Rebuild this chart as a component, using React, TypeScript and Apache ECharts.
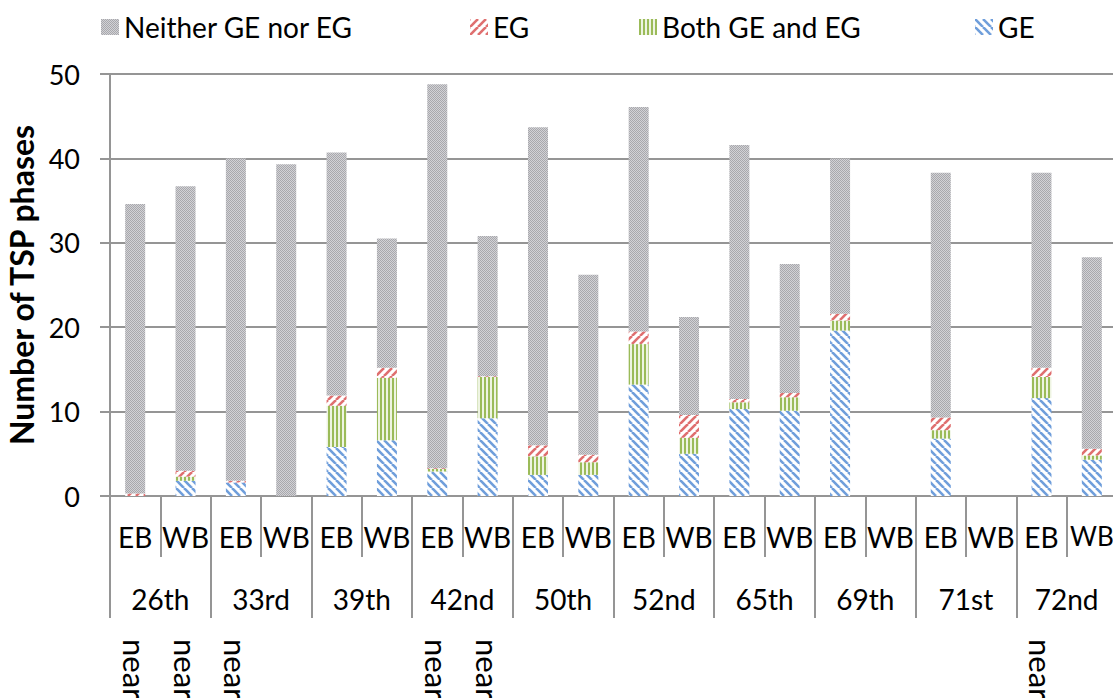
import React, { useEffect, useRef } from 'react';
import * as echarts from 'echarts';

const directions = ['EB', 'WB'];
const streets = ['26th', '33rd', '39th', '42nd', '50th', '52nd', '65th', '69th', '71st', '72nd'];
const slotLabels = streets.flatMap(() => directions);
const noteLabels = ['near', 'near', 'near', '', '', '', 'near', 'near', '', '', '', '', '', '', '', '', '', '', 'near', ''];
const yTicks = { min: 0, max: 50, interval: 10 };

const geValues = [0, 1.8, 1.6, 0, 5.8, 6.6, 2.9, 9.2, 2.5, 2.5, 13.2, 5.0, 10.3, 10.1, 19.6, 0, 6.8, 0, 11.6, 4.3];
const bothValues = [0, 0.5, 0, 0, 4.9, 7.4, 0.3, 4.9, 2.2, 1.5, 4.8, 1.9, 0.8, 1.6, 1.2, 0, 1.0, 0, 2.5, 0.5];
const egValues = [0.3, 0.7, 0.2, 0, 1.2, 1.2, 0.1, 0.1, 1.3, 0.9, 1.5, 2.7, 0.4, 0.5, 0.8, 0, 1.5, 0, 1.1, 0.8];
const neitherValues = [34.3, 33.7, 38.2, 39.3, 28.8, 15.3, 45.5, 16.6, 37.7, 21.3, 26.6, 11.6, 30.1, 15.3, 18.4, 0, 29.0, 0, 23.1, 22.7];

const FONT = 'Lato';

function makePattern(kind: string) {
  const size = kind === 'neither' ? 4 : kind === 'both' ? 4 : 8;
  const c = document.createElement('canvas');
  c.width = size;
  c.height = size;
  const ctx = c.getContext('2d')!;
  ctx.fillStyle = '#ffffff';
  ctx.fillRect(0, 0, size, size);
  if (kind === 'neither') {
    for (let y = 0; y < size; y++) {
      for (let x = 0; x < size; x++) {
        ctx.fillStyle = (x + y) % 2 === 0 ? '#a8a8ac' : '#d2d2d6';
        ctx.fillRect(x, y, 1, 1);
      }
    }
  } else if (kind === 'both') {
    ctx.fillStyle = '#eef4e2';
    ctx.fillRect(0, 0, size, size);
    ctx.fillStyle = '#9bbb59';
    ctx.fillRect(0, 0, 2, size);
  } else {
    const color = kind === 'ge' ? '#6f9edb' : '#df6f6f';
    ctx.strokeStyle = color;
    ctx.lineWidth = 2.6;
    for (let k = -1; k <= 1; k++) {
      ctx.beginPath();
      if (kind === 'ge') {
        ctx.moveTo(k * size, 0);
        ctx.lineTo(k * size + size, size);
      } else {
        ctx.moveTo(k * size, size);
        ctx.lineTo(k * size + size, 0);
      }
      ctx.stroke();
    }
  }
  return { image: c.toDataURL(), repeat: 'repeat', imageWidth: size, imageHeight: size } as any;
}

export default function App() {
  const ref = useRef<HTMLDivElement>(null);
  useEffect(() => {
    if (!ref.current) return;
    const chart = echarts.init(ref.current, null, { renderer: 'svg' });
    const pGE = makePattern('ge');
    const pEG = makePattern('eg');
    const pBoth = makePattern('both');
    const pNeither = makePattern('neither');
    const gridColor = '#959595';
    const legendBase = {
      top: 8,
      itemWidth: 18,
      itemHeight: 16,
      icon: 'rect',
      selectedMode: false,
      textStyle: { fontFamily: FONT, fontSize: 28, color: '#000' },
    };
    const mk = (name: string, data: number[], pattern: any) => ({
      name,
      type: 'bar',
      stack: 'total',
      xAxisIndex: 0,
      yAxisIndex: 0,
      barWidth: 20,
      data,
      itemStyle: { color: pattern },
    });
    const slotData = slotLabels.map((s, i) =>
      i === slotLabels.length - 1
        ? { value: s, textStyle: { fontSize: 26, fontFamily: FONT, color: '#000' } }
        : s
    );
    chart.setOption({
      animation: false,
      backgroundColor: '#ffffff',
      legend: [
        { ...legendBase, left: 96, data: ['Neither GE nor EG'] },
        { ...legendBase, left: 465, data: ['EG'] },
        { ...legendBase, left: 634, data: ['Both GE and EG'] },
        { ...legendBase, left: 970, data: ['GE'] },
      ],
      grid: { left: 110, right: -4, top: 74, bottom: 202, containLabel: false, outerBoundsMode: 'none' },
      xAxis: [
        {
          type: 'category',
          data: slotData,
          position: 'bottom',
          axisLine: { show: true, lineStyle: { color: gridColor, width: 2 } },
          axisTick: { show: true, interval: 0, length: 61, lineStyle: { color: gridColor, width: 2 } },
          axisLabel: { interval: 0, margin: 27, fontFamily: FONT, fontSize: 28, color: '#000' },
        },
        {
          type: 'category',
          data: streets,
          position: 'bottom',
          axisLine: { show: false },
          axisTick: { show: true, interval: 0, length: 122, lineStyle: { color: gridColor, width: 2 } },
          axisLabel: { interval: 0, margin: 89, fontFamily: FONT, fontSize: 28, color: '#000' },
        },
        {
          type: 'category',
          data: noteLabels,
          position: 'bottom',
          axisLine: { show: false },
          axisTick: { show: false },
          axisLabel: { interval: 0, margin: 143, rotate: -90, fontFamily: FONT, fontSize: 31, color: '#000' },
        },
      ],
      yAxis: {
        type: 'value',
        min: yTicks.min,
        max: yTicks.max,
        interval: yTicks.interval,
        name: 'Number of TSP phases',
        nameLocation: 'middle',
        nameGap: 72,
        nameTextStyle: { fontFamily: FONT, fontSize: 32, fontWeight: 'bold', color: '#000' },
        axisLine: { show: true, lineStyle: { color: gridColor, width: 2 } },
        axisTick: { show: true, length: 10, lineStyle: { color: gridColor, width: 2 } },
        axisLabel: { margin: 30, fontFamily: FONT, fontSize: 27, color: '#000' },
        splitLine: { show: true, lineStyle: { color: gridColor, width: 2 } },
      },
      series: [
        mk('GE', geValues, pGE),
        mk('Both GE and EG', bothValues, pBoth),
        mk('EG', egValues, pEG),
        mk('Neither GE nor EG', neitherValues, pNeither),
      ],
    });
    return () => chart.dispose();
  }, []);
  return (
    <div
      ref={ref}
      style={{ position: 'absolute', left: 0, top: 0, width: 1113, height: 698, background: '#fff' }}
    />
  );
}
